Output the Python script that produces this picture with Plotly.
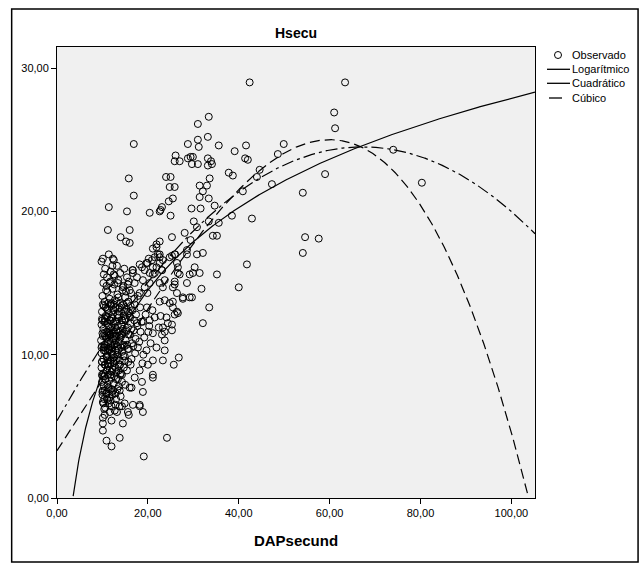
import numpy as np
import plotly.graph_objects as go

# ---------------- data ----------------
# upper / sparse observations
dap_upper = [16.9, 33.4, 31.0, 33.2, 31.0, 28.8, 31.2, 35.6, 41.6, 39.1, 49.9, 48.6, 41.4, 42.0,
             26.1, 27.0, 25.9, 29.4, 29.9, 28.8, 29.7, 31.0, 33.2, 33.2, 34.1, 33.9,
             37.8, 38.7, 44.6, 44.0, 47.3, 54.1, 54.6, 54.1, 57.6,
             15.8, 16.9, 11.4, 15.4, 11.2, 16.0, 14.0, 15.2, 16.0, 11.4,
             24.0, 25.0, 24.8, 25.9, 33.6, 31.4, 33.0, 32.1, 31.4, 33.4, 25.5, 24.6, 23.1, 22.6, 22.8,
             20.4, 25.0, 29.6, 31.6, 34.7, 30.1, 30.8, 33.4, 35.6, 34.3, 35.2, 38.5, 42.9, 28.1, 29.4,
             25.3, 21.1, 21.9, 22.6,
             10.1, 12.3, 20.2, 22.2, 22.6, 25.3, 26.0, 28.6, 28.6, 30.8, 32.1, 40.9,
             42.4, 63.4, 61.0, 61.2, 59.0, 74.0, 80.3,
             41.8, 35.2, 40.0, 31.8, 29.2, 30.3, 31.4, 29.7, 27.7, 33.5, 32.1]
h_upper = [24.7, 26.6, 26.1, 25.2, 25.0, 24.7, 24.5, 24.6, 24.6, 24.2, 24.7, 24.0, 23.7, 23.6,
           23.9, 23.5, 23.5, 23.8, 23.8, 23.7, 23.3, 23.3, 23.7, 23.2, 23.3, 23.5,
           22.7, 22.5, 22.9, 22.4, 21.9, 21.3, 18.2, 17.1, 18.1,
           22.3, 21.1, 20.3, 20.0, 18.7, 18.7, 18.2, 17.9, 17.8, 17.0,
           22.4, 22.4, 21.7, 21.7, 22.3, 21.8, 21.8, 21.4, 21.0, 20.9, 20.9, 20.7, 20.3, 20.0, 20.1,
           19.9, 19.7, 20.2, 20.2, 20.4, 19.3, 18.9, 19.3, 19.2, 18.3, 18.3, 19.7, 19.5, 18.5, 18.0,
           18.2, 17.4, 17.7, 17.9,
           16.7, 16.7, 16.7, 17.0, 16.8, 16.9, 17.0, 17.3, 17.0, 17.0, 17.1, 21.4,
           29.0, 29.0, 26.9, 25.8, 22.6, 24.3, 22.0,
           16.3, 15.6, 14.7, 14.6, 15.6, 16.1, 15.7, 14.0, 13.9, 13.3, 12.2]

# middle sparse observations
dap_mid = [26.4, 26.6, 27.0, 25.9, 25.5, 26.4, 27.7, 29.2, 22.6, 23.1, 23.7, 23.3, 21.1, 21.5, 19.7,
           20.4, 18.9, 19.3, 19.9,
           25.9, 25.5, 24.8, 23.7, 25.5, 26.4, 25.9, 24.1, 24.4, 25.3, 23.3, 23.7, 25.3, 23.1, 23.7,
           23.7, 23.3, 26.8, 25.7,
           26.6, 29.9, 28.6, 26.6, 22.6, 22.6, 20.4, 21.1, 21.9, 19.7, 20.0, 18.2, 17.1, 21.1, 21.1,
           9.8, 12.5, 13.2, 12.5, 11.6, 13.4, 15.4, 16.7, 17.6, 18.7, 19.3, 19.9, 20.9, 21.5, 21.9,
           22.6, 21.9, 17.1, 23.1, 15.6, 16.7, 18.2, 23.3, 24.8, 25.9, 14.5, 16.0, 18.2, 20.4, 21.1]
h_mid = [16.4, 16.1, 15.6, 15.1, 14.7, 14.3, 14.0, 14.0, 16.4, 15.9, 15.2, 14.7, 16.1, 15.7, 16.4,
         15.7, 15.2, 14.7, 14.3,
         14.9, 13.7, 13.6, 13.8, 13.3, 13.0, 12.8, 12.6, 12.2, 12.1, 11.9, 11.6, 11.7, 11.4, 11.0,
         10.3, 9.6, 9.8, 9.3,
         15.7, 15.7, 15.0, 12.9, 13.7, 15.0, 12.4, 11.5, 10.5, 10.3, 9.3, 8.9, 8.4, 9.6, 8.6,
         16.5, 16.6, 16.2, 15.6, 15.0, 15.0, 15.4, 15.7, 15.4, 16.1, 15.9, 16.4, 16.6, 16.8, 17.5,
         17.0, 16.1, 15.0, 15.9, 14.9, 15.9, 16.3, 16.6, 16.8, 17.0, 14.7, 14.5, 14.3, 15.0, 15.6]

# lower sparse observations
dap_low = [18.7, 18.9, 21.1, 16.4, 10.1, 12.0, 13.8, 14.9, 16.7, 18.2, 15.6, 15.8, 18.9, 13.2, 11.6,
           10.5, 10.1, 12.0, 10.1, 14.5, 10.1, 10.9, 12.0, 13.8, 19.1, 24.2, 18.2, 16.0, 14.3, 12.7,
           11.0, 10.6]
h_low = [8.1, 7.4, 8.4, 7.7, 6.7, 6.4, 6.4, 6.6, 6.5, 6.4, 6.0, 5.8, 6.0, 6.0, 6.0,
         5.8, 5.6, 5.4, 5.2, 5.2, 4.7, 4.0, 3.6, 4.2, 2.9, 4.2, 6.5, 7.7, 6.4, 6.1,
         6.9, 6.3]

# dense cluster of small trees
dap_dense = [10.0, 10.5, 11.1, 11.6, 12.2, 12.7, 13.3, 13.9, 14.4, 15.0, 15.7, 16.3, 17.0, 17.8, 10.8, 12.0, 13.5, 15.2,
             9.9, 10.3, 10.7, 11.0, 11.4, 11.8, 12.1, 12.5, 12.9, 13.3, 13.7, 14.2, 14.7, 15.3, 15.9, 16.6, 17.4, 18.3,
             10.5, 11.2, 12.3, 13.5, 14.9, 16.1,
             9.8, 10.2, 10.6, 10.9, 11.3, 11.7, 12.0, 12.4, 12.8, 13.2, 13.6, 14.1, 14.5, 15.0, 15.6, 16.2, 16.9, 17.7,
             18.6, 10.4, 11.1, 11.9, 12.6, 13.4, 14.3, 15.3, 10.0, 11.5,
             9.7, 10.1, 10.5, 10.8, 11.2, 11.6, 11.9, 12.3, 12.7, 13.1, 13.5, 14.0, 14.5, 15.1, 15.8, 16.5, 17.3, 18.1,
             10.3, 11.0, 11.8, 12.5, 13.3, 14.2, 15.4, 9.9, 11.4, 12.9,
             9.8, 10.2, 10.6, 10.9, 11.3, 11.7, 12.1, 12.5, 12.9, 13.3, 13.8, 14.3, 14.9, 15.6, 16.4, 17.2,
             10.4, 11.1, 11.9, 12.7, 13.6, 14.6, 9.9, 11.5, 12.3,
             9.8, 10.2, 10.6, 11.0, 11.4, 11.8, 12.2, 12.6, 13.1, 13.6, 14.1, 14.7, 15.4, 16.2, 10.4, 11.2, 12.0, 12.9,
             13.9, 9.9, 11.6,
             9.9, 10.3, 10.7, 11.1, 11.5, 12.0, 12.5, 13.0, 13.6, 14.3, 15.0, 10.5, 11.3, 12.3, 13.3, 10.0,
             10.0, 10.4, 10.9, 11.5, 12.2, 13.0, 14.0, 10.2, 11.8,
             19.5, 20.3, 21.5, 19.2, 20.6, 22.4, 19.0, 22.8, 20.1, 18.8, 19.8, 21.0, 18.9, 17.8, 18.4]
h_dense = [14.1, 13.7, 14.4, 13.9, 14.6, 13.8, 14.2, 13.6, 14.5, 14.0, 13.7, 14.3, 13.9, 14.1, 14.5, 13.6, 14.0, 14.4,
           13.0, 13.4, 12.7, 13.2, 12.9, 13.5, 12.6, 13.1, 13.3, 12.8, 13.0, 13.4, 12.7, 13.2, 12.9, 13.1, 12.8, 13.3,
           12.5, 13.1, 12.8, 13.2, 13.0, 12.6,
           12.1, 11.8, 12.3, 11.6, 12.0, 12.4, 11.7, 12.2, 11.9, 12.3, 11.6, 12.1, 11.8, 12.4, 11.9, 12.2, 11.7, 12.0,
           12.3, 11.5, 12.2, 11.9, 11.6, 12.0, 12.4, 11.7, 12.4, 11.5,
           11.0, 11.3, 10.7, 11.2, 10.9, 11.4, 10.6, 11.1, 10.8, 11.3, 10.9, 11.2, 10.7, 11.0, 11.4, 10.8, 11.1, 10.9,
           10.5, 11.1, 10.8, 11.3, 10.6, 11.4, 10.7, 10.6, 11.3, 11.0,
           10.1, 9.7, 10.3, 9.9, 10.4, 9.6, 10.2, 9.8, 10.3, 10.0, 9.6, 10.2, 9.9, 10.4, 9.7, 10.1,
           10.5, 9.8, 10.1, 9.6, 10.4, 9.9, 9.5, 10.3, 10.0,
           9.1, 8.7, 9.3, 8.9, 9.2, 8.6, 9.0, 9.4, 8.8, 9.2, 8.7, 9.1, 8.9, 9.3, 8.5, 9.4, 8.8, 9.1,
           8.6, 8.6, 8.9,
           8.1, 7.8, 8.3, 7.9, 8.2, 7.6, 8.0, 8.3, 7.8, 8.1, 7.9, 7.5, 7.7, 7.5, 7.6, 7.4,
           7.2, 6.9, 7.3, 7.0, 7.2, 6.9, 7.1, 6.6, 6.8,
           12.8, 12.0, 12.6, 11.2, 10.8, 11.9, 10.0, 12.7, 11.6, 9.4, 13.3, 13.1, 12.3, 10.5, 11.6]

# second layer of the dense cluster (points between the rows above)
dap_dense2 = [10.1, 10.7, 11.3, 11.9, 12.5, 13.1, 13.8, 14.6, 15.4, 16.2, 17.1,
              9.9, 10.4, 11.0, 11.6, 12.2, 12.8, 13.5, 14.3, 15.1, 16.0, 17.0,
              10.0, 10.6, 11.2, 11.8, 12.4, 13.0, 13.7, 14.4, 15.2, 16.1,
              9.8, 10.3, 10.9, 11.5, 12.1, 12.7, 13.4, 14.1, 14.9, 15.8,
              9.9, 10.5, 11.1, 11.7, 12.4, 13.1, 13.9, 14.8, 15.7,
              10.0, 10.6, 11.2, 11.9, 12.6, 13.4, 14.3,
              10.1, 10.8, 11.4, 12.1, 12.9, 13.8,
              10.2, 10.9, 11.7, 12.6, 13.5, 14.6, 15.8,
              10.3, 11.0, 11.8, 12.7, 13.9, 10.6, 12.2, 14.8, 16.6, 11.4,
              10.4, 11.2, 12.9, 15.6, 17.6, 11.0, 13.6, 16.8]
h_dense2 = [13.5, 13.3, 13.6, 13.4, 13.5, 13.7, 13.3, 13.5, 13.6, 13.4, 13.5,
            12.5, 12.3, 12.6, 12.4, 12.5, 12.3, 12.6, 12.4, 12.5, 12.7, 12.4,
            11.5, 11.3, 11.6, 11.4, 11.5, 11.7, 11.3, 11.5, 11.6, 11.4,
            10.5, 10.3, 10.6, 10.4, 10.5, 10.7, 10.3, 10.5, 10.6, 10.4,
            9.5, 9.3, 9.6, 9.4, 9.5, 9.7, 9.3, 9.6, 9.5,
            8.5, 8.3, 8.6, 8.4, 8.5, 8.3, 8.6,
            7.5, 7.3, 7.6, 7.4, 7.3, 7.5,
            15.0, 14.8, 15.1, 14.9, 15.2, 14.8, 15.1,
            15.6, 15.4, 15.8, 15.5, 15.7, 16.0, 16.2, 16.0, 15.9, 6.6,
            6.2, 6.8, 6.5, 13.0, 12.2, 9.9, 8.9, 10.6]

# fitted models (coefficients)
log_coef = [-10.42, 8.32]                      # b0 + b1*ln(x)
quad_coef = [5.4, 0.5677, -0.004218]          # b0 + b1 x + b2 x^2
cubic_coef = [3.3, 0.4805, 0.002069, -6.748e-5]  # b0 + b1 x + b2 x^2 + b3 x^3

x_ticks = [0, 20, 40, 60, 80, 100]
y_ticks = [0, 10, 20, 30]
x_range = [0, 105.2]
y_range = [0, 31.47]

legend_labels = ["Observado", "Logarítmico", "Cuadrático", "Cúbico"]

# ---------------- figure ----------------
dap = dap_upper + dap_mid + dap_low + dap_dense + dap_dense2
hsecu = h_upper + h_mid + h_low + h_dense + h_dense2

FONT = "Liberation Sans, Arial, sans-serif"
fig = go.Figure()

fig.add_trace(go.Scatter(
    x=dap, y=hsecu, mode="markers", name=legend_labels[0],
    marker=dict(symbol="circle-open", size=7, color="black", line=dict(width=1, color="black")),
    hoverinfo="skip"))

xg = np.linspace(0.0, x_range[1], 800)
xl = xg[xg > 0]
y_log = log_coef[0] + log_coef[1] * np.log(xl)
mask = y_log >= 0
fig.add_trace(go.Scatter(x=xl[mask], y=y_log[mask], mode="lines", name=legend_labels[1],
                         line=dict(color="black", width=1.2)))
y_quad = quad_coef[0] + quad_coef[1] * xg + quad_coef[2] * xg ** 2
fig.add_trace(go.Scatter(x=xg, y=y_quad, mode="lines", name=legend_labels[2],
                         line=dict(color="black", width=1.2, dash="12px,4px,3px,4px")))
y_cub = cubic_coef[0] + cubic_coef[1] * xg + cubic_coef[2] * xg ** 2 + cubic_coef[3] * xg ** 3
m2 = y_cub >= 0
fig.add_trace(go.Scatter(x=xg[m2], y=y_cub[m2], mode="lines", name=legend_labels[3],
                         line=dict(color="black", width=1.2, dash="10px,5px")))

# plot-area pixel geometry
PL, PR, PT, PB = 57.3, 535.0, 47.0, 498.0
def fx(px):
    return (px - PL) / (PR - PL)
def fy(py):
    return (PB - py) / (PB - PT)

shapes = []
annotations = []
# outer frame
shapes.append(dict(type="rect", xref="paper", yref="paper", x0=fx(12), x1=fx(638), y0=fy(562), y1=fy(9),
                   line=dict(color="black", width=1.5), fillcolor="rgba(0,0,0,0)", layer="below"))
# title
annotations.append(dict(text="Hsecu", xref="paper", yref="paper", x=0.5, y=fy(33), showarrow=False,
                        xanchor="center", yanchor="middle",
                        font=dict(family=FONT, size=14, color="black", weight="bold")))
# manual legend
rows = [55, 69.3, 83.3, 98]
shapes.append(dict(type="circle", xref="paper", yref="paper", xsizemode="pixel", ysizemode="pixel",
                   xanchor=fx(558), yanchor=fy(rows[0]), x0=-3.5, x1=3.5, y0=-3.5, y1=3.5,
                   line=dict(color="black", width=1)))
shapes.append(dict(type="line", xref="paper", yref="paper", x0=fx(547), x1=fx(570), y0=fy(rows[1]), y1=fy(rows[1]),
                   line=dict(color="black", width=1.3)))
shapes.append(dict(type="line", xref="paper", yref="paper", x0=fx(547), x1=fx(570), y0=fy(rows[2]), y1=fy(rows[2]),
                   line=dict(color="black", width=1.3)))
shapes.append(dict(type="line", xref="paper", yref="paper", x0=fx(549), x1=fx(562), y0=fy(rows[3]), y1=fy(rows[3]),
                   line=dict(color="black", width=1.3)))
for lab, r in zip(legend_labels, rows):
    annotations.append(dict(text=lab, xref="paper", yref="paper", x=fx(570), y=fy(r), showarrow=False,
                            xanchor="left", yanchor="middle", font=dict(family=FONT, size=11, color="black")))

fig.update_layout(
    width=641, height=565,
    margin=dict(l=PL, r=641 - PR, t=PT, b=565 - PB),
    paper_bgcolor="white", plot_bgcolor="#f0f0f0",
    separators=",.", showlegend=False,
    font=dict(family=FONT, size=11, color="black"),
    shapes=shapes, annotations=annotations,
)
fig.update_xaxes(range=x_range, tickvals=x_ticks, tickformat=".2f", ticks="outside", ticklen=5,
                 tickcolor="black", showline=True, linecolor="black", linewidth=1, mirror=True,
                 showgrid=False, zeroline=False,
                 title=dict(text="DAPsecund", standoff=17,
                            font=dict(family=FONT, size=15, color="black", weight="bold")))
fig.update_yaxes(range=y_range, tickvals=y_ticks, tickformat=".2f", ticks="outside", ticklen=5,
                 tickcolor="black", showline=True, linecolor="black", linewidth=1, mirror=True,
                 showgrid=False, zeroline=False)

fig.write_html("out.html")
